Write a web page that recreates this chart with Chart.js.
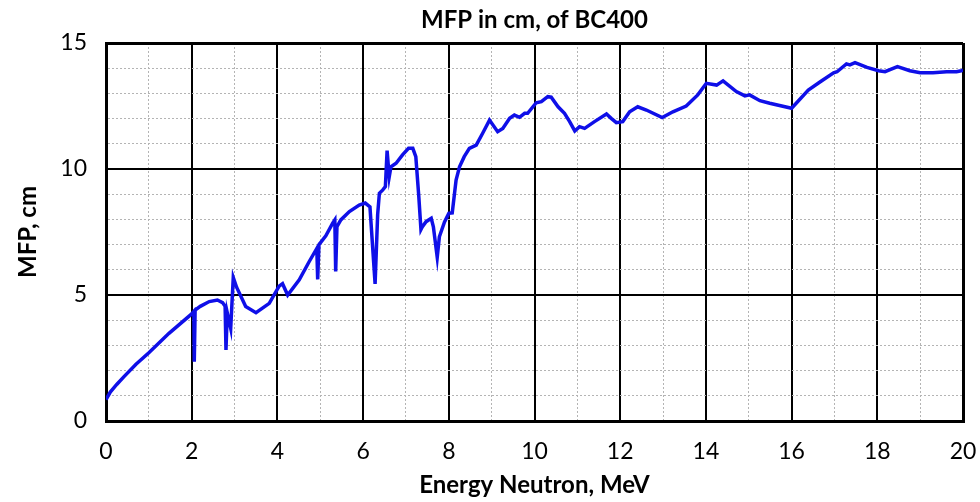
<!DOCTYPE html>
<html>
<head>
<meta charset="utf-8">
<script src="https://cdn.jsdelivr.net/npm/chart.js@4"></script>
<style>
  html, body { margin: 0; padding: 0; background: #fff; }
  #wrap { width: 980px; height: 502px; }
</style>
</head>
<body>
<div id="wrap"><canvas id="mfpChart"></canvas></div>
<script>
// ================= DATA =================
const energy = [
    0, 0.1, 0.25, 0.42, 0.7, 1.0, 1.47, 2.0, 2.05, 2.06, 2.08, 2.2, 2.41, 2.6, 2.72, 2.78,
    2.8, 2.83, 2.91, 2.97, 3.05, 3.26, 3.5, 3.81, 4.04, 4.12, 4.24, 4.51, 4.74, 4.92,
    4.94, 4.97, 5.13, 5.29, 5.34, 5.36, 5.39, 5.48, 5.68, 5.91, 6.05, 6.16, 6.28, 6.34,
    6.38, 6.46, 6.52, 6.56, 6.61, 6.65, 6.77, 6.92, 7.06, 7.16, 7.23, 7.3, 7.35, 7.38,
    7.47, 7.59, 7.64, 7.73, 7.78, 7.9, 8.0, 8.08, 8.17, 8.25, 8.36, 8.48, 8.64, 8.79,
    8.95, 9.14, 9.26, 9.42, 9.53, 9.65, 9.77, 9.84, 10.04, 10.16, 10.31, 10.39, 10.55,
    10.7, 10.82, 10.94, 11.05, 11.17, 11.4, 11.68, 11.79, 11.91, 12.06, 12.22, 12.41,
    12.61, 12.98, 13.23, 13.54, 13.81, 14.01, 14.25, 14.4, 14.71, 14.91, 15.02, 15.26,
    15.49, 16.0, 16.39, 16.67, 16.98, 17.06, 17.28, 17.36, 17.48, 17.76, 18.03, 18.18,
    18.47, 18.76, 19.0, 19.3, 19.62, 19.85, 19.96, 20.0
];
const mfp = [
    0.85, 1.15, 1.45, 1.76, 2.25, 2.71, 3.48, 4.25, 4.35, 2.35, 4.4, 4.55, 4.74, 4.8, 4.7, 4.55,
    2.82, 4.3, 3.68, 5.7, 5.3, 4.54, 4.3, 4.67, 5.35, 5.45, 5.0, 5.6, 6.32, 6.85,
    5.62, 7.0, 7.35, 7.85, 7.98, 5.93, 7.71, 7.98, 8.31, 8.57, 8.65, 8.5, 5.44, 8.2,
    9.04, 9.17, 9.3, 10.73, 9.69, 10.09, 10.23, 10.56, 10.82, 10.82, 10.49, 8.9, 7.6, 7.7,
    7.91, 8.04, 7.71, 6.5, 7.31, 7.9, 8.24, 8.26, 9.56, 10.09, 10.49, 10.82, 10.95, 11.42,
    11.94, 11.48, 11.61, 12.01, 12.14, 12.05, 12.21, 12.21, 12.63, 12.67, 12.87, 12.85, 12.47,
    12.21, 11.88, 11.51, 11.68, 11.61, 11.88, 12.18, 12.01, 11.84, 11.88, 12.27, 12.47,
    12.34, 12.04, 12.27, 12.5, 12.94, 13.4, 13.33, 13.5, 13.07, 12.9, 12.94, 12.71,
    12.61, 12.41, 13.13, 13.46, 13.82, 13.86, 14.17, 14.13, 14.22, 14.03, 13.9, 13.86,
    14.06, 13.9, 13.82, 13.82, 13.86, 13.86, 13.9, 13.92
];
const xTickLabels = [0, 2, 4, 6, 8, 10, 12, 14, 16, 18, 20];
const yTickLabels = [0, 5, 10, 15];

const FONT = "Lato, 'Open Sans', sans-serif";

// title centred over the plot area
const plotTitle = {
    id: "plotTitle",
    afterDraw(chart) {
        const c = chart.ctx, a = chart.chartArea;
        c.save();
        c.font = "bold 24px " + FONT;
        c.fillStyle = "#000";
        c.textAlign = "center";
        c.textBaseline = "middle";
        c.fillText("MFP in cm, of BC400", (a.left + a.right) / 2, 20);
        c.restore();
    }
};

function gridColor(ctx, major) {
    const v = ctx.tick ? ctx.tick.value : 0;
    return v % major === 0 ? "#000" : "#b4b4b4";
}
function gridWidth(ctx, major, max) {
    const v = ctx.tick ? ctx.tick.value : 0;
    if (v === 0 || v === max) return 3;
    return v % major === 0 ? 2 : 1;
}
function gridDash(ctx, major) {
    if (!ctx.tick) return [];
    return ctx.tick.value % major === 0 ? [] : [2, 2];
}

// ================= MFP CHART =================
new Chart(document.getElementById("mfpChart"), {
    type: "scatter",
    data: {
        datasets: [{
            data: energy.map((e, i) => ({ x: e, y: mfp[i] })),
            showLine: true,
            borderColor: "#0f0fe8",
            borderWidth: 3.5,
            pointRadius: 0,
            tension: 0
        }]
    },
    options: {
        responsive: true,
        maintainAspectRatio: false,
        animation: false,
        layout: { padding: { top: 43, right: 17, bottom: 0, left: 0 } },
        plugins: {
            legend: { display: false },
            tooltip: { enabled: false }
        },
        scales: {
            x: {
                type: "linear",
                min: 0,
                max: 20,
                afterFit(scale) {
                    scale.height = 81;
                    scale.paddingLeft = 0;
                    scale.paddingRight = 0;
                },
                ticks: {
                    stepSize: 1,
                    autoSkip: false,
                    maxRotation: 0,
                    padding: 17,
                    color: "#000",
                    font: { family: FONT, size: 23 },
                    callback: v => xTickLabels.includes(v) ? v : ""
                },
                grid: {
                    drawTicks: false,
                    color: ctx => gridColor(ctx, 2),
                    lineWidth: ctx => gridWidth(ctx, 2, 20)
                },
                border: { display: true, color: "#000", width: 3, dash: ctx => gridDash(ctx, 2) },
                title: {
                    display: true,
                    text: "Energy Neutron, MeV",
                    color: "#000",
                    font: { family: FONT, size: 24, weight: "bold" },
                    padding: { top: 0, bottom: 2 }
                }
            },
            y: {
                min: 0,
                max: 15,
                afterFit(scale) { scale.width = 106; },
                ticks: {
                    stepSize: 1,
                    autoSkip: false,
                    padding: 19,
                    color: "#000",
                    font: { family: FONT, size: 23 },
                    callback: v => yTickLabels.includes(v) ? v : ""
                },
                grid: {
                    drawTicks: false,
                    color: ctx => gridColor(ctx, 5),
                    lineWidth: ctx => gridWidth(ctx, 5, 15)
                },
                border: { display: true, color: "#000", width: 3, dash: ctx => gridDash(ctx, 5) },
                title: {
                    display: true,
                    text: "MFP, cm",
                    color: "#000",
                    font: { family: FONT, size: 24, weight: "bold" },
                    padding: { top: 14, bottom: 0 }
                }
            }
        }
    },
    plugins: [plotTitle]
});
</script>
</body>
</html>
